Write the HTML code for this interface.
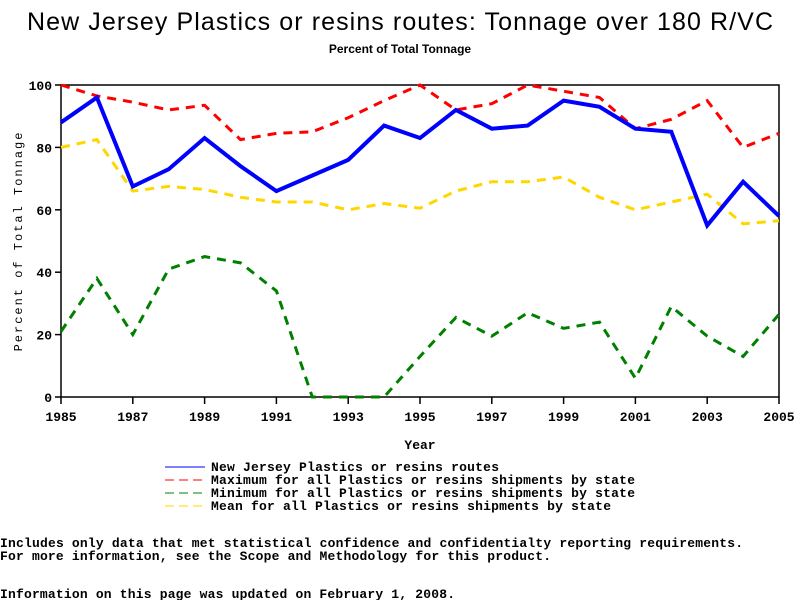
<!DOCTYPE html>
<html><head><meta charset="utf-8"><style>
body{margin:0;background:#fff;width:800px;height:600px;overflow:hidden}
svg text{font-family:"Liberation Mono",monospace}
</style></head><body>
<svg width="800" height="600" xmlns="http://www.w3.org/2000/svg">
<text x="400" y="30" text-anchor="middle" font-size="25" style="font-family:'Liberation Sans',sans-serif" textLength="746">New Jersey Plastics or resins routes: Tonnage over 180 R/VC</text>
<text x="400" y="53" text-anchor="middle" font-size="12" font-weight="bold" style="font-family:'Liberation Sans',sans-serif">Percent of Total Tonnage</text>
<rect x="61" y="85" width="718" height="312" fill="none" stroke="#000" stroke-width="1.5"/>
<g id="axes"></g>
<g id="series"></g>
<text x="420" y="449" text-anchor="middle" font-size="13" font-weight="bold">Year</text>
<text transform="translate(22,241) rotate(-90)" text-anchor="middle" font-size="12" letter-spacing="2">Percent of Total Tonnage</text>
<g id="legend" font-size="13" font-weight="bold"></g>
<text x="0" y="547" font-size="13" font-weight="bold" textLength="743">Includes only data that met statistical confidence and confidentialty reporting requirements.</text>
<text x="0" y="560" font-size="13" font-weight="bold" textLength="551">For more information, see the Scope and Methodology for this product.</text>
<text x="0" y="598" font-size="13" font-weight="bold" textLength="455">Information on this page was updated on February 1, 2008.</text>
</svg>
<script>
const years=[1985,1986,1987,1988,1989,1990,1991,1992,1993,1994,1995,1996,1997,1998,1999,2000,2001,2002,2003,2004,2005];
const xTicks=[1985,1987,1989,1991,1993,1995,1997,1999,2001,2003,2005];
const yTicks=[0,20,40,60,80,100];
const njValues=[88,96,67.5,73,83,74,66,71,76,87,83,92,86,87,95,93,86,85,55,69,58];
const maxValues=[100,96.5,94.5,92,93.5,82.5,84.5,85,89.5,95,100,92,94,100,98,96,86,89,95,80,84.5];
const minValues=[21,38,20,41,45,43,34,0,0,0,13,25.5,19.5,27,22,24,6,29,19.5,13,26.5];
const meanValues=[80,82.5,66,67.5,66.5,64,62.5,62.5,60,62,60.5,66,69,69,70.5,64,60,62.5,65,55.5,56.5];
const legendLabels=["New Jersey Plastics or resins routes","Maximum for all Plastics or resins shipments by state","Minimum for all Plastics or resins shipments by state","Mean for all Plastics or resins shipments by state"];
const legendWidths=[288,424,424,400];
const NS="http://www.w3.org/2000/svg";
const X=y=>61+(y-1985)*(718/20);
const Y=v=>397-v*3.12;
function mk(tag,attrs,parent){const e=document.createElementNS(NS,tag);for(const k in attrs)e.setAttribute(k,attrs[k]);parent.appendChild(e);return e;}
const axes=document.getElementById('axes');
xTicks.forEach(t=>{
 const l=mk('line',{x1:X(t),x2:X(t),y1:397,y2:404,stroke:'#000','stroke-width':1.5},axes);
 
 
 const tx=mk('text',{x:X(t),y:421,'text-anchor':'middle','font-size':13,'font-weight':'bold'},axes);tx.textContent=t;
 
 
});
yTicks.forEach(t=>{
 const l=mk('line',{x1:55,x2:61,y1:Y(t),y2:Y(t),stroke:'#000','stroke-width':1.5},axes);
 
 
 const tx=mk('text',{x:52,y:Y(t)+5,'text-anchor':'end','font-size':13,'font-weight':'bold'},axes);tx.textContent=t;
 
 
});
const series=[
 {vals:maxValues,color:'#ff0000',w:3,dash:'9 7',name:'max-line'},
 {vals:meanValues,color:'#ffd700',w:3,dash:'9 7',name:'mean-line'},
 {vals:minValues,color:'#008000',w:3,dash:'9 7',name:'min-line'},
 {vals:njValues,color:'#0000ff',w:4,dash:'',name:'nj-line'}
];
const sg=document.getElementById('series');
series.forEach(s=>{
 const p=mk('polyline',{points:s.vals.map((v,i)=>X(years[i])+','+Y(v)).join(' '),fill:'none',stroke:s.color,'stroke-width':s.w,'stroke-dasharray':s.dash},sg);
 
 
});
const lg=document.getElementById('legend');
const lcol=['#0000ff','#ff0000','#008000','#ffd700'];
legendLabels.forEach((lab,i)=>{
 const y=467+i*13;
 const l=mk('line',{x1:165,x2:205,y1:y,y2:y,stroke:lcol[i],'stroke-width':1,'stroke-dasharray':i?'9 5':''},lg);
 
 
 const t=mk('text',{x:211,y:y+4,textLength:legendWidths[i]},lg);t.textContent=lab;
 
 
});
</script>
</body></html>
